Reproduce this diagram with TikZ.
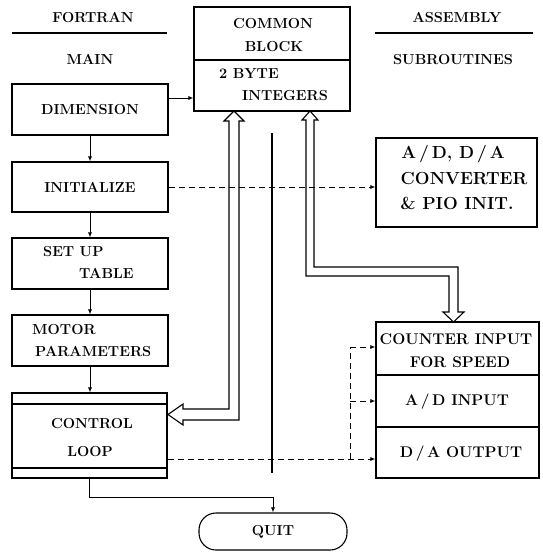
\documentclass[tikz,border=0pt]{standalone}
\usetikzlibrary{arrows.meta}
\begin{document}
\begin{tikzpicture}[x=1pt,y=-1pt,
  every node/.style={font=\fontsize{14.5}{17}\selectfont\bfseries, inner sep=0pt},
  box/.style={draw, line width=1.1pt, minimum width=156pt},
  iotxt/.style={font=\fontsize{15.5}{18}\selectfont\bfseries},
  cvtxt/.style={font=\fontsize{17.5}{20}\selectfont\bfseries},
  arr/.style={line width=0.9pt, -{Latex[length=5pt,width=4pt]}},
  dsh/.style={arr, dash pattern=on 6pt off 4pt},
  dline/.style={line width=0.9pt, dash pattern=on 6pt off 4pt},
  fat/.style={draw, line width=1.1pt, fill=white, line join=miter},
  rule/.style={line width=1.1pt}]
\useasboundingbox (0,0) rectangle (542,553);

% headers
\node (hF) at (93,18) {FORTRAN};
\draw[rule] (12,33) -- (167,33);
\node (hM) at (90,59) {MAIN};
\node (hA) at (457,18) {ASSEMBLY};
\draw[rule] (375,33) -- (533,33);
\node (hS) at (453,60) {SUBROUTINES};

% left column
\node[box, minimum height=51pt] (dim) at (90,109.5) {DIMENSION};
\node[box, minimum height=50pt] (init) at (90,187) {INITIALIZE};
\node[box, minimum height=51pt] (setup) at (90,263.5) {};
\node[anchor=west] (setupA) at (43,252) {SET UP};
\node[anchor=west] (setupB) at (79,273) {TABLE};
\node[box, minimum height=51pt] (motor) at (90,340.5) {};
\node[anchor=west] (motA) at (32,330) {MOTOR};
\node[anchor=west] (motB) at (35,352) {PARAMETERS};
\node[box, minimum width=155pt, minimum height=85pt] (ctrl) at (89.5,435.5) {};
\draw[rule] (ctrl.west |- 0,404) -- (ctrl.east |- 0,404);
\draw[rule] (ctrl.west |- 0,468) -- (ctrl.east |- 0,468);
\node (ctrlA) at (92,424) {CONTROL};
\node (ctrlB) at (90,452) {LOOP};

% common block
\node[box, minimum height=104pt] (common) at (272,59) {};
\draw[rule] (common.west |- 0,60) -- (common.east |- 0,60);
\node (cmA) at (273,24) {COMMON};
\node (cmB) at (274,47) {BLOCK};
\node[anchor=west] (cmC) at (219,74) {2 BYTE};
\node[anchor=west] (cmD) at (242,96) {INTEGERS};

% right column
\node[box, minimum width=161pt, minimum height=89pt] (conv) at (456.5,182.5) {};
\node[cvtxt] (cvA) at (453,154) {A\,/\,D, D\,/\,A};
\node[cvtxt] (cvB) at (464,178) {CONVERTER};
\node[cvtxt] (cvC) at (457,203) {\& PIO INIT.};

\node[box, minimum width=163pt, minimum height=156pt] (io) at (457.5,400) {};
\draw[rule] (io.west |- 0,375) -- (io.east |- 0,375);
\draw[rule] (io.west |- 0,427) -- (io.east |- 0,427);
\node[iotxt] (ioA) at (456,339) {COUNTER INPUT};
\node[iotxt] (ioB) at (460,362) {FOR SPEED};
\node[iotxt] (ioC) at (457,402) {A\,/\,D INPUT};
\node[iotxt] (ioD) at (461,454) {D\,/\,A OUTPUT};

\node[draw, line width=1.1pt, rounded corners=17pt, minimum width=148pt, minimum height=37pt] (quit) at (273,531.5) {QUIT};

% vertical separator line
\draw[line width=1.1pt] (272,133) -- (272,473);

% fat (bus) arrows
\path[fat] (234,111) -- (244,121) -- (239,121) -- (239,420) -- (183,420) -- (183,425)
  -- (168,414.5) -- (183,404) -- (183,409) -- (229,409) -- (229,121) -- (224,121) -- cycle;
\path[fat] (310,111) -- (318,120) -- (314,120) -- (314,267) -- (458,267) -- (458,312)
  -- (464,312) -- (453.5,322) -- (443,312) -- (449,312) -- (449,276) -- (306,276)
  -- (306,120) -- (302,120) -- cycle;

% connectors
\coordinate (d1) at ([yshift=11.5pt]dim.east);
\draw[arr] (d1) -- (d1 -| common.west);
\draw[arr] (dim) -- (init);
\draw[arr] (init) -- (setup);
\draw[arr] (setup) -- (motor);
\draw[arr] (motor.south) -- (motor.south |- ctrl.north);
\draw[dsh] (init.east) -- (init.east -| conv.west);
\coordinate (c1) at ([yshift=-23.5pt]ctrl.east);
\draw[dsh] (c1) -- (c1 -| io.west);
\coordinate (v1) at (350,459);
\coordinate (v2) at (350,347);
\coordinate (v3) at (350,401);
\draw[dline] (v1) -- (v2);
\draw[dsh] (v2) -- (v2 -| io.west);
\draw[dsh] (v3) -- (v3 -| io.west);
\coordinate (q1) at (90,497);
\draw[arr] (ctrl.south) -- (ctrl.south |- q1) -| (quit.north);
\end{tikzpicture}
\end{document}
